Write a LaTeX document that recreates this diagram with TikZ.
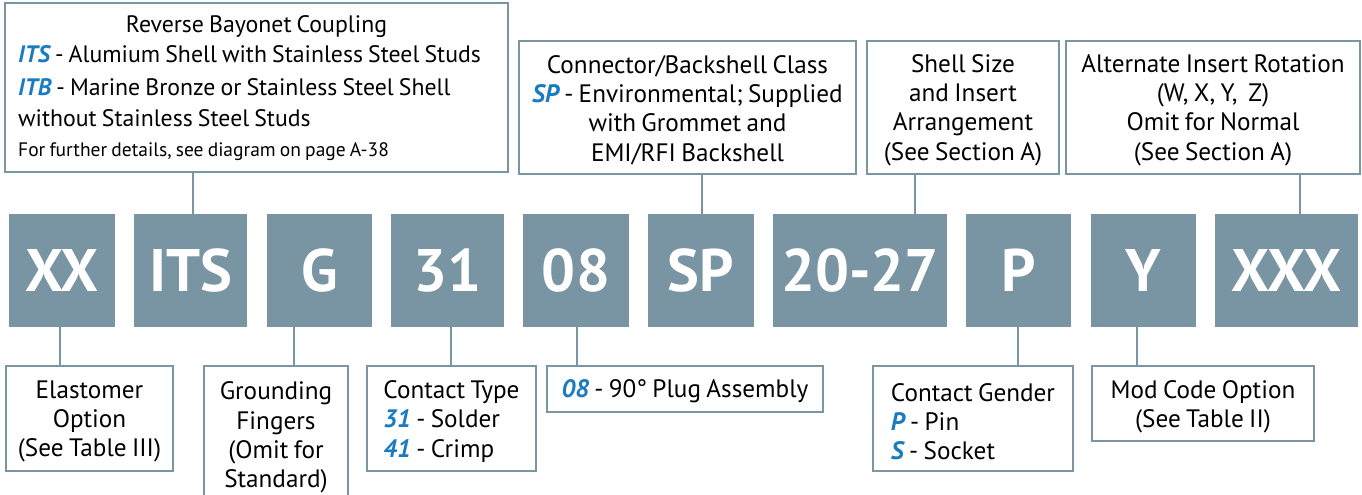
\documentclass[tikz,border=0pt]{standalone}
\usepackage{fontspec}
\setmainfont{PT Sans}[WordSpace=0.8]
\usetikzlibrary{calc}
\definecolor{bord}{HTML}{7A95A3}
\definecolor{codefill}{HTML}{7994A2}
\definecolor{hlblue}{HTML}{1A7BC1}
\newcommand{\hlc}[1]{{\color{hlblue}\bfseries\itshape #1}}
\newcommand{\txfont}{\fontsize{25.2}{29.3}\selectfont}
\newcommand{\tlfont}{\fontsize{23.8}{30}\selectfont}
\begin{document}
\begin{tikzpicture}[x=1pt,y=-1pt,
  infobox/.style={draw=bord, line width=2.6pt, fill=white, inner sep=0pt},
  codebox/.style={fill=codefill, inner sep=0pt, minimum height=113pt, text=white,
    font=\fontsize{60}{60}\selectfont\bfseries},
  conn/.style={draw=bord, line width=2.6pt},
  txt/.style={font=\txfont, inner sep=0pt, text=black},
  tltxt/.style={font=\tlfont, inner sep=0pt, text=black}]
\clip (0,0) rectangle (1362,495);
\fill[white] (0,0) rectangle (1362,495);
% code boxes
\node[codebox, minimum width=106] (xx)  at (62,270.5) {XX};
\node[codebox, minimum width=113] (its) at (190.5,270.5) {ITS};
\node[codebox, minimum width=105] (g)   at (319.5,270.5) {G};
\node[codebox, minimum width=113] (c31) at (447.5,270.5) {31};
\node[codebox, minimum width=106] (c08) at (576,270.5) {08};
\node[codebox, minimum width=106] (sp)  at (701,270.5) {SP};
\node[codebox, minimum width=174] (c2027) at (860,270.5) {20-27};
\node[codebox, minimum width=105] (p)   at (1018.5,270.5) {P};
\node[codebox, minimum width=105] (y)   at (1143.5,270.5) {Y};
\node[codebox, minimum width=143] (xxx) at (1286.5,270.5) {XXX};
% top boxes
\node[infobox, minimum width=503, minimum height=169] (tl) at (256.5,87.5) {};
\node[tltxt, anchor=base] (tl1) at (256.5,33) {Reverse Bayonet Coupling};
\node[tltxt, anchor=base west] (tl2) at (18,63) {\hlc{ITS} - Alumium Shell with Stainless Steel Studs};
\node[tltxt, anchor=base west] (tl3) at (18,95) {\hlc{ITB} - Marine Bronze or Stainless Steel Shell};
\node[tltxt, anchor=base west] (tl4) at (18,126) {without Stainless Steel Studs};
\node[tltxt, anchor=base west, font=\fontsize{19.5}{24}\selectfont] (tl5) at (18,156) {For further details, see diagram on page A-38};
\node[infobox, minimum width=337, minimum height=133] (cb) at (687.5,107.5) {};
\node[txt, align=center] (cbt) at ([yshift=-2.5pt]cb.center) {Connector/Backshell Class\\
\hlc{SP} - Environmental; Supplied\\with Grommet and\\EMI/RFI Backshell};
\node[infobox, minimum width=192, minimum height=133] (sh) at (963,107.5) {};
\node[txt, align=center] (sht) at ([yshift=-2.5pt]sh.center) {Shell Size\\and Insert\\Arrangement\\(See Section A)};
\node[infobox, minimum width=294, minimum height=133] (alt) at (1213,107.5) {};
\node[txt, align=center] (altt) at ([yshift=-2.5pt]alt.center) {Alternate Insert Rotation\\(W, X, Y,\ \ Z)\\Omit for Normal\\(See Section A)};
% bottom boxes
\node[infobox, minimum width=167, minimum height=105] (el) at (89.5,418.5) {};
\node[txt, align=center] (elt) at ([yshift=-3pt]el.center) {Elastomer\\Option\\(See Table III)};
\node[infobox, minimum width=144, minimum height=144] (gr) at (276,438) {};
\node[txt, align=center, anchor=north] (grt) at ([yshift=-17pt]gr.north) {Grounding\\Fingers\\(Omit for\\Standard)};
\node[infobox, minimum width=169, minimum height=105] (ct) at (451.5,418.5) {};
\node[txt, align=left] (ctt) at ([yshift=-3pt]ct.center) {Contact Type\\\hlc{31} - Solder\\\hlc{41} - Crimp};
\node[infobox, minimum width=276, minimum height=46] (pl) at (685,389) {};
\node[txt] (plt) at ([yshift=-2pt]pl.center) {\hlc{08} - 90° Plug Assembly};
\node[infobox, minimum width=200, minimum height=105] (gen) at (973,418.5) {};
\node[txt, align=left] (gent) at ([yshift=-3pt]gen.center) {Contact Gender\\\hlc{P} - Pin\\\hlc{S} - Socket};
\node[infobox, minimum width=222, minimum height=75] (mod) at (1203,403.5) {};
\node[txt, align=center] (modt) at ([yshift=-3pt]mod.center) {Mod Code Option\\(See Table II)};
% connectors
\draw[conn] ([xshift=-63.5pt]tl.south) -- ([xshift=2.5pt]its.north);
\draw[conn] ([xshift=14.5pt]cb.south) -- ([xshift=1pt]sp.north);
\draw[conn] ([xshift=-48pt]sh.south) -- ([xshift=55pt]c2027.north);
\draw[conn] ([xshift=87pt]alt.south) -- ([xshift=13.5pt]xxx.north);
\draw[conn] ([xshift=-2pt]xx.south) -- ([xshift=-29.5pt]el.north);
\draw[conn] ([xshift=-25.5pt]g.south) -- ([xshift=18pt]gr.north);
\draw[conn] ([xshift=3.5pt]c31.south) -- ([xshift=-0.5pt]ct.north);
\draw[conn] ([xshift=1pt]c08.south) -- ([xshift=-108pt]pl.north);
\draw[conn] ([xshift=-0.5pt]p.south) -- ([xshift=45pt]gen.north);
\draw[conn] ([xshift=-6.5pt]y.south) -- ([xshift=-66pt]mod.north);
\end{tikzpicture}
\end{document}
